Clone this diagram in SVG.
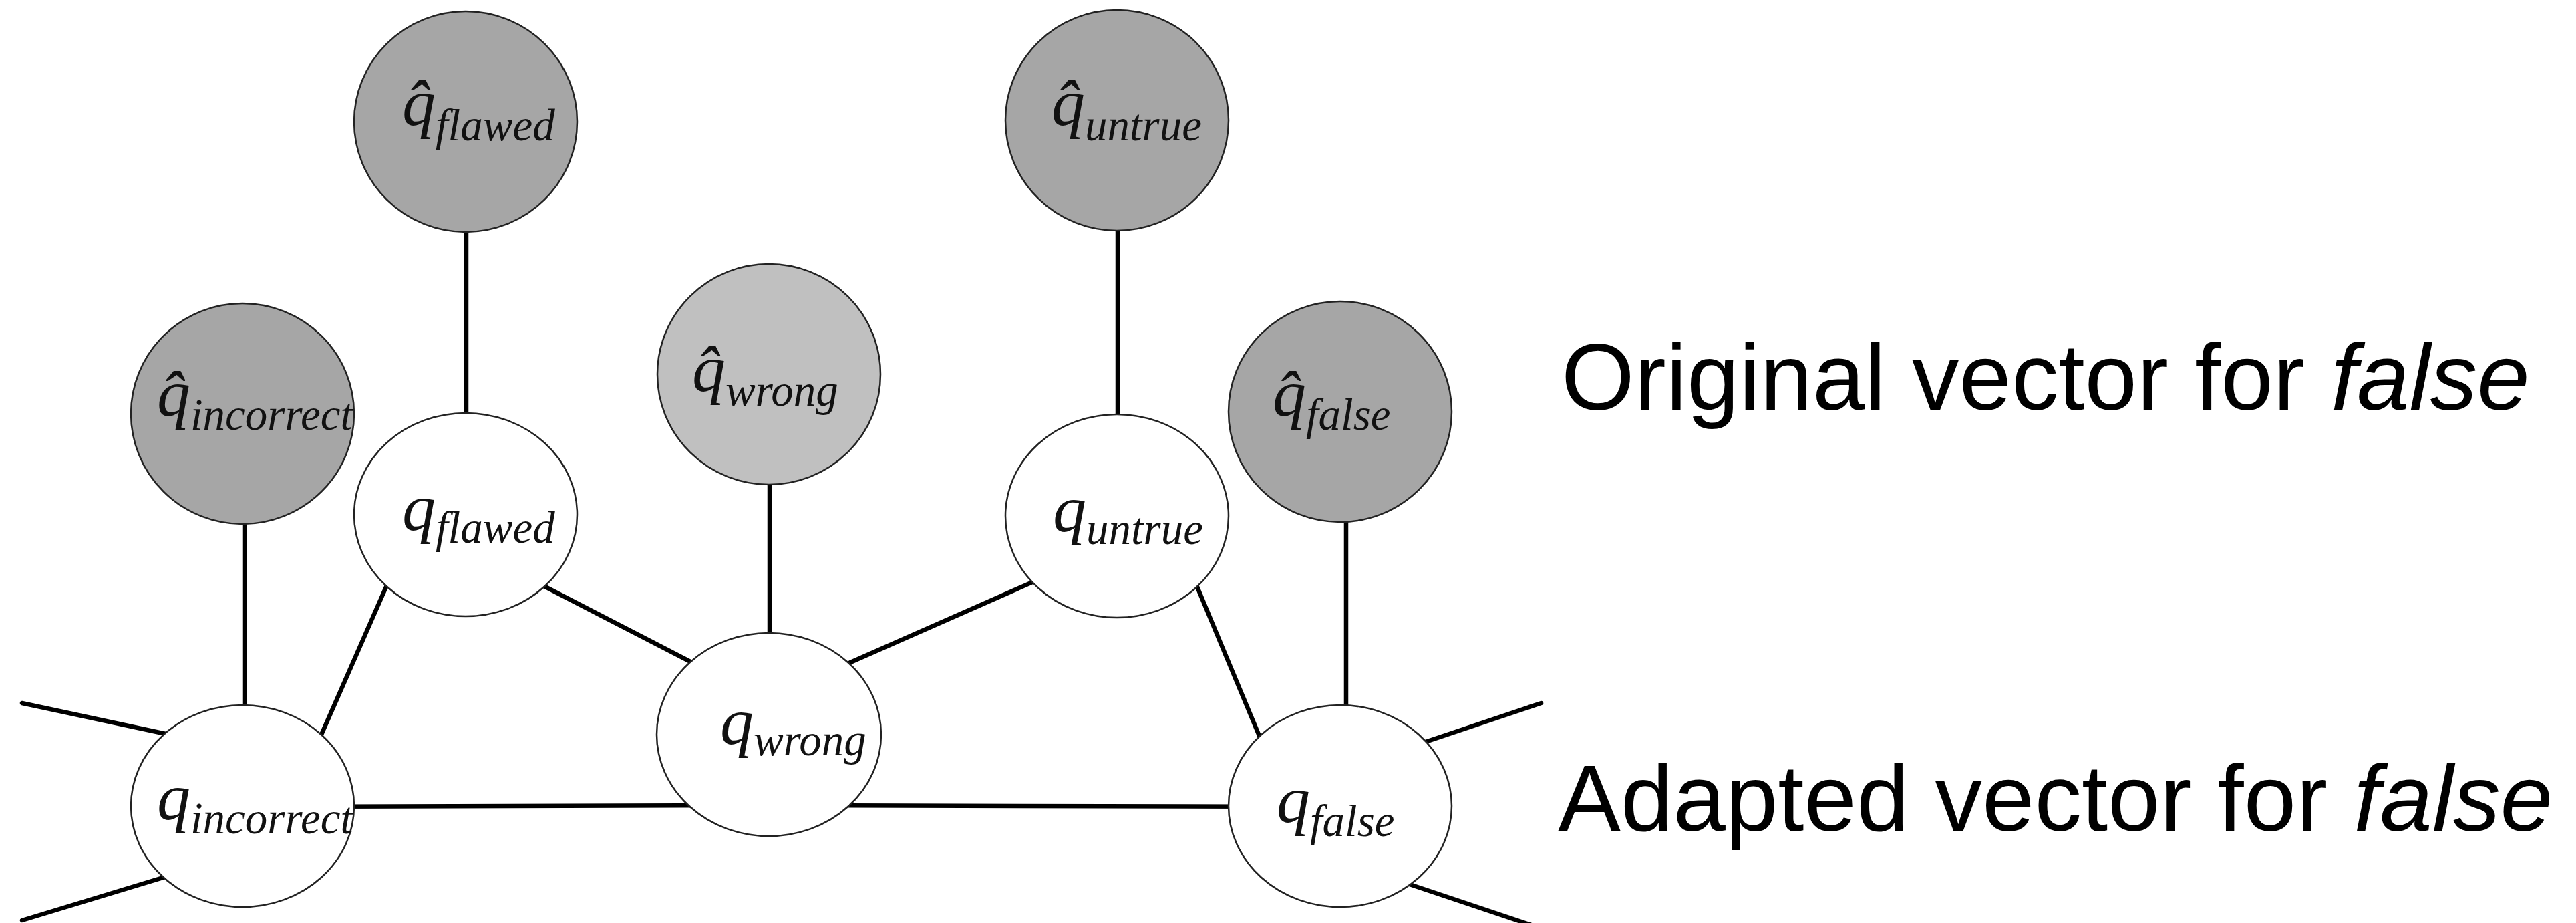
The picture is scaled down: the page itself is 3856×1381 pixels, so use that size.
<svg xmlns="http://www.w3.org/2000/svg" width="3856" height="1381" viewBox="0 0 3856 1381">
  <style>
    .edge { stroke: #000; stroke-width: 6.5; stroke-linecap: round; fill: none; }
    .orig { fill: #a6a6a6; stroke: #222; stroke-width: 2.5; }
    .orig-light { fill: #c0c0c0; stroke: #222; stroke-width: 2.5; }
    .adapt { fill: #fff; stroke: #222; stroke-width: 2.5; }
    .lbl { font-family: "Liberation Serif", "DejaVu Serif", serif; font-style: italic; fill: #111; }
    .q { font-size: 100px; }
    .sub { font-size: 67px; }
    .legend { font-family: "Liberation Sans", Arial, sans-serif; font-size: 141px; fill: #000; }
  </style>

  <!-- connectors (drawn first, node fills hide the ends) -->
  <g id="connectors">
    <!-- original vectors tied to their adapted vectors -->
    <line class="edge" x1="366" y1="619" x2="366" y2="1150"/>
    <line class="edge" x1="698" y1="182" x2="698" y2="700"/>
    <line class="edge" x1="1152" y1="560" x2="1152" y2="1000"/>
    <line class="edge" x1="1673" y1="180" x2="1673" y2="700"/>
    <line class="edge" x1="2015" y1="616" x2="2015" y2="1120"/>
    <!-- lexicon graph edges -->
    <line class="edge" x1="607" y1="812" x2="453" y2="1163"/>
    <line class="edge" x1="760" y1="849" x2="1080" y2="1014"/>
    <line class="edge" x1="1230" y1="1010" x2="1600" y2="847"/>
    <line class="edge" x1="1760" y1="801" x2="1910" y2="1161"/>
    <line class="edge" x1="420" y1="1207" x2="1151" y2="1205"/>
    <line class="edge" x1="1151" y1="1205" x2="1950" y2="1207"/>
    <!-- edges leaving the picture -->
    <line class="edge" x1="33" y1="1052" x2="300" y2="1109"/>
    <line class="edge" x1="33" y1="1377" x2="300" y2="1296"/>
    <line class="edge" x1="2080" y1="1128" x2="2307" y2="1052"/>
    <line class="edge" x1="2080" y1="1313" x2="2310" y2="1390"/>
  </g>

  <!-- original (fixed) vectors -->
  <g id="node-hat-incorrect">
    <ellipse class="orig" cx="363" cy="619" rx="167" ry="165"/>
    <text class="lbl" x="235" y="622"><tspan class="q">q̂</tspan><tspan class="sub" dy="21">incorrect</tspan></text>
  </g>
  <g id="node-hat-flawed">
    <ellipse class="orig" cx="697" cy="182" rx="167" ry="165"/>
    <text class="lbl" x="602" y="187"><tspan class="q">q̂</tspan><tspan class="sub" dy="23">flawed</tspan></text>
  </g>
  <g id="node-hat-wrong">
    <ellipse class="orig-light" cx="1151" cy="560" rx="167" ry="165"/>
    <text class="lbl" x="1036" y="585"><tspan class="q">q̂</tspan><tspan class="sub" dy="22">wrong</tspan></text>
  </g>
  <g id="node-hat-untrue">
    <ellipse class="orig" cx="1672" cy="180" rx="167" ry="165"/>
    <text class="lbl" x="1574" y="187"><tspan class="q">q̂</tspan><tspan class="sub" dy="23">untrue</tspan></text>
  </g>
  <g id="node-hat-false">
    <ellipse class="orig" cx="2006" cy="616" rx="167" ry="165"/>
    <text class="lbl" x="1905" y="622"><tspan class="q">q̂</tspan><tspan class="sub" dy="21">false</tspan></text>
  </g>

  <!-- adapted vectors -->
  <g id="node-incorrect">
    <ellipse class="adapt" cx="363" cy="1206" rx="167" ry="151"/>
    <text class="lbl" x="235" y="1226"><tspan class="q">q</tspan><tspan class="sub" dy="21">incorrect</tspan></text>
  </g>
  <g id="node-flawed">
    <ellipse class="adapt" cx="697" cy="770" rx="167" ry="152"/>
    <text class="lbl" x="602" y="793"><tspan class="q">q</tspan><tspan class="sub" dy="19">flawed</tspan></text>
  </g>
  <g id="node-wrong">
    <ellipse class="adapt" cx="1151" cy="1099" rx="168" ry="152"/>
    <text class="lbl" x="1078" y="1113"><tspan class="q">q</tspan><tspan class="sub" dy="17">wrong</tspan></text>
  </g>
  <g id="node-untrue">
    <ellipse class="adapt" cx="1672" cy="772" rx="167" ry="152"/>
    <text class="lbl" x="1576" y="795"><tspan class="q">q</tspan><tspan class="sub" dy="19">untrue</tspan></text>
  </g>
  <g id="node-false">
    <ellipse class="adapt" cx="2006" cy="1206" rx="167" ry="151"/>
    <text class="lbl" x="1911" y="1230"><tspan class="q">q</tspan><tspan class="sub" dy="21">false</tspan></text>
  </g>

  <!-- legend -->
  <g id="legend">
    <text class="legend" x="2337" y="613">Original vector for <tspan font-style="italic">false</tspan></text>
    <text class="legend" x="2332" y="1243">Adapted vector for <tspan font-style="italic">false</tspan></text>
  </g>
</svg>
